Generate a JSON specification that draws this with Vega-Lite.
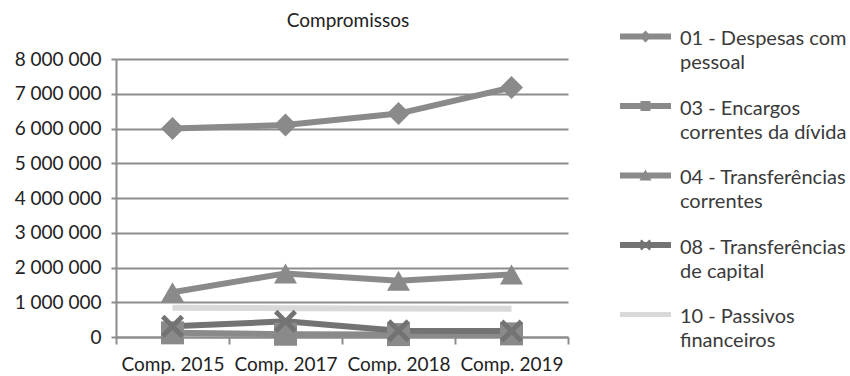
{
  "$schema": "https://vega.github.io/schema/vega-lite/v6.json",
  "autosize": "none",
  "width": 452,
  "height": 278,
  "padding": {"left": 116, "top": 59, "right": 282, "bottom": 39},
  "background": "white",
  "title": {"text": "Compromissos", "anchor": "middle", "frame": "group", "offset": 26, "dy": 28, "dx": 6, "font": "Lato", "fontSize": 19, "fontWeight": "normal", "color": "#222222"},
  "data": {"values": [
    {"series": "01 - Despesas com pessoal", "ano": "Comp. 2015", "valor": 6000000},
    {"series": "01 - Despesas com pessoal", "ano": "Comp. 2017", "valor": 6100000},
    {"series": "01 - Despesas com pessoal", "ano": "Comp. 2018", "valor": 6430000},
    {"series": "01 - Despesas com pessoal", "ano": "Comp. 2019", "valor": 7180000},
    {"series": "03 - Encargos correntes da dívida", "ano": "Comp. 2015", "valor": 120000},
    {"series": "03 - Encargos correntes da dívida", "ano": "Comp. 2017", "valor": 80000},
    {"series": "03 - Encargos correntes da dívida", "ano": "Comp. 2018", "valor": 70000},
    {"series": "03 - Encargos correntes da dívida", "ano": "Comp. 2019", "valor": 90000},
    {"series": "04 - Transferências correntes", "ano": "Comp. 2015", "valor": 1290000},
    {"series": "04 - Transferências correntes", "ano": "Comp. 2017", "valor": 1830000},
    {"series": "04 - Transferências correntes", "ano": "Comp. 2018", "valor": 1620000},
    {"series": "04 - Transferências correntes", "ano": "Comp. 2019", "valor": 1800000},
    {"series": "08 - Transferências de capital", "ano": "Comp. 2015", "valor": 310000},
    {"series": "08 - Transferências de capital", "ano": "Comp. 2017", "valor": 450000},
    {"series": "08 - Transferências de capital", "ano": "Comp. 2018", "valor": 180000},
    {"series": "08 - Transferências de capital", "ano": "Comp. 2019", "valor": 170000},
    {"series": "10 - Passivos financeiros", "ano": "Comp. 2015", "valor": 840000},
    {"series": "10 - Passivos financeiros", "ano": "Comp. 2017", "valor": 830000},
    {"series": "10 - Passivos financeiros", "ano": "Comp. 2018", "valor": 820000},
    {"series": "10 - Passivos financeiros", "ano": "Comp. 2019", "valor": 810000}
  ]},
  "encoding": {
    "x": {"field": "ano", "type": "nominal", "title": null,
      "scale": {"paddingInner": 0, "paddingOuter": 0},
      "axis": {"labelAngle": 0, "tickBand": "extent", "tickSize": 7, "tickColor": "#8c8c8c", "tickWidth": 2, "domainColor": "#8c8c8c", "domainWidth": 2, "labelPadding": 11, "labelFontSize": 19, "grid": false}},
    "y": {"field": "valor", "type": "quantitative", "title": null,
      "scale": {"domain": [0, 8000000]},
      "axis": {"values": [0, 1000000, 2000000, 3000000, 4000000, 5000000, 6000000, 7000000, 8000000], "format": ",d", "tickSize": 5, "tickColor": "#8c8c8c", "tickWidth": 2, "domainColor": "#8c8c8c", "domainWidth": 2, "gridColor": "#8c8c8c", "gridWidth": 2, "labelPadding": 10, "labelFontSize": 19}},
    "color": {"field": "series", "type": "nominal",
      "scale": {"domain": ["01 - Despesas com pessoal", "03 - Encargos correntes da dívida", "04 - Transferências correntes", "08 - Transferências de capital", "10 - Passivos financeiros"],
                "range": ["#8a8a8a", "#8a8a8a", "#8a8a8a", "#737373", "#d9d9d9"]}}
  },
  "layer": [
    {
      "mark": {"type": "line", "strokeWidth": 6},
      "encoding": {
        "color": {"field": "series", "type": "nominal",
          "legend": {
            "title": null, "orient": "none", "legendX": 519.5, "legendY": -30, "padding": 0,
            "symbolSize": 100, "labelOffset": 24.5, "rowPadding": 25.5, "labelLimit": 400,
            "labelFont": "Lato", "labelFontSize": 20, "labelColor": "#3a3a3a", "labelBaseline": "middle",
            "labelExpr": "datum.label == '01 - Despesas com pessoal' ? ['01 - Despesas com', 'pessoal'] : datum.label == '03 - Encargos correntes da dívida' ? ['03 - Encargos', 'correntes da dívida'] : datum.label == '04 - Transferências correntes' ? ['04 - Transferências', 'correntes'] : datum.label == '08 - Transferências de capital' ? ['08 - Transferências', 'de capital'] : ['10 - Passivos', 'financeiros']",
            "encode": {
              "labels": {"update": {"lineHeight": {"value": 24}}},
              "symbols": {"update": {
                "shape": {"signal": "datum.value == '01 - Despesas com pessoal' ? 'M-5.1,-1.1H5.1V0.1H-5.1ZM0,-1.7L1.2,-0.5L0,0.7L-1.2,-0.5Z' : datum.value == '03 - Encargos correntes da dívida' ? 'M-5.1,-1.1H5.1V0.1H-5.1ZM-1,-1.5H1V0.5H-1Z' : datum.value == '04 - Transferências correntes' ? 'M-5.1,-1.1H5.1V0.1H-5.1ZM0,-1.7L1.2,0.5H-1.2Z' : datum.value == '08 - Transferências de capital' ? 'M-5.1,-1.1H5.1V0.1H-5.1ZM-1.1,-1.27L-0.77,-1.6L0,-0.83L0.77,-1.6L1.1,-1.27L0.33,-0.5L1.1,0.27L0.77,0.6L0,-0.17L-0.77,0.6L-1.1,0.27L-0.33,-0.5Z' : 'M-5.1,-1H5.1V0H-5.1Z'"},
                "fill": {"signal": "datum.value == '08 - Transferências de capital' ? '#505050' : scale('color', datum.value)"},
                "stroke": {"value": "transparent"},
                "strokeWidth": {"value": 0},
                "size": {"value": 100},
                "opacity": {"value": 1}
              }}
            }
          }}
      }
    },
    {
      "transform": [{"filter": "datum.series != '10 - Passivos financeiros'"}],
      "mark": {"type": "point", "filled": true, "opacity": 1, "size": 530},
      "encoding": {
        "color": {"field": "series", "type": "nominal", "legend": null},
        "shape": {"field": "series", "type": "nominal", "legend": null,
          "scale": {"domain": ["01 - Despesas com pessoal", "03 - Encargos correntes da dívida", "04 - Transferências correntes", "08 - Transferências de capital"],
                    "range": ["diamond", "square", "triangle-up", "M-1,-0.7L-0.7,-1L0,-0.3L0.7,-1L1,-0.7L0.3,0L1,0.7L0.7,1L0,0.3L-0.7,1L-1,0.7L-0.3,0Z"]}}
      }
    }
  ],
  "config": {
    "locale": {"number": {"decimal": ",", "thousands": " ", "grouping": [3], "currency": ["", " €"]}},
    "view": {"stroke": null},
    "axis": {"labelFont": "Lato", "labelColor": "#222222"}
  }
}
